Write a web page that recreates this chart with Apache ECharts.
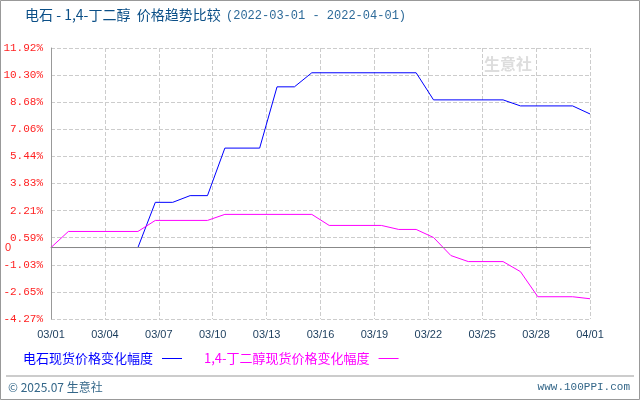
<!DOCTYPE html><html><head><meta charset="utf-8"><script src="https://cdn.jsdelivr.net/npm/echarts@6/dist/echarts.min.js"></script>
<style>body{margin:0}#c{width:640px;height:400px}</style></head><body><div id="c"></div><script>
const xLabels=['03/01','03/04','03/07','03/10','03/13','03/16','03/19','03/22','03/25','03/28','04/01'];
const blue=[[0,0],[5,0],[6,2.7],[7,2.7],[8,3.1],[9,3.1],[10,5.94],[12,5.94],[13,9.6],[14,9.6],[15,10.44],[21,10.44],[22,8.82],[26,8.82],[27,8.46],[30,8.46],[31,7.98]];
const pink=[[0,0],[1,0.96],[5,0.96],[6,1.62],[9,1.62],[10,1.98],[15,1.98],[16,1.32],[19,1.32],[20,1.08],[21,1.08],[22,0.6],[23,-0.48],[24,-0.84],[26,-0.84],[27,-1.44],[28,-2.94],[30,-2.94],[31,-3.06]];
const yMin=-4.27,yMax=11.92,yStep=1.619;
const F='"Noto Sans CJK SC",sans-serif';
const M='"Liberation Mono","DejaVu Sans Mono",monospace';
const c=echarts.init(document.getElementById('c'));
c.setOption({animation:false,backgroundColor:'#fff',
graphic:[
{type:'text',left:25,top:8,style:{text:'电石 - 1,4-丁二醇  价格趋势比较',fill:'#0b4f87',font:'14px '+F}},
{type:'text',left:226,top:10,style:{text:'(2022-03-01 - 2022-04-01)',fill:'#2d6a99',font:'12px '+M}},
{type:'rect',shape:{x:0.5,y:0.5,width:639,height:399},style:{fill:'none',stroke:'#999'}},
{type:'line',shape:{x1:6,y1:376,x2:634,y2:376},style:{stroke:'#999'}},
{type:'text',left:8,top:381,style:{text:'© 2025.07 生意社',fill:'#336688',font:'12px '+F}},
{type:'text',right:10,top:382,style:{text:'www.100PPI.com',fill:'#336688',font:'11px '+M}},
{type:'text',left:484,top:56,style:{text:'生意社',fill:'#ddd',font:'bold 16px '+F}}
],
legend:{left:18,top:347,itemWidth:20,itemHeight:1,icon:'rect',align:'right',itemGap:22,
 data:[{name:'电石现货价格变化幅度',textStyle:{color:'#0000ff'}},{name:'1,4-丁二醇现货价格变化幅度',textStyle:{color:'#ff00ff'}}],
 textStyle:{fontSize:13,fontFamily:F,padding:[0,4,0,0]}},
grid:{left:51,right:50,top:48,bottom:81},
xAxis:{type:'value',min:0,max:31,interval:3.1,axisLine:{lineStyle:{color:'#999'}},axisTick:{show:false},
 axisLabel:{color:'#1a3c5c',fontSize:11,margin:10,formatter:(v)=>xLabels[Math.round(v/3.1)]||''},
 splitLine:{show:true,lineStyle:{type:'dashed',color:'#ccc'}}},
yAxis:{type:'value',min:yMin,max:yMax,interval:yStep,axisLine:{show:true,lineStyle:{color:'#999'}},axisTick:{show:false},
 axisLabel:{color:'#ff2222',fontSize:11,fontFamily:M,formatter:v=>v.toFixed(2)+'%',showMaxLabel:true},
 splitLine:{lineStyle:{type:'dashed',color:'#ccc'}}},
series:[
{name:'电石现货价格变化幅度',type:'line',data:blue,symbol:'none',lineStyle:{color:'#0000ff',width:1},itemStyle:{color:'#0000ff'},
 markLine:{silent:true,symbol:'none',data:[{yAxis:0}],lineStyle:{color:'#888',type:'solid',width:1},label:{position:'start',formatter:'0',color:'#ff2222',fontSize:11,distance:40}}},
{name:'1,4-丁二醇现货价格变化幅度',type:'line',data:pink,symbol:'none',lineStyle:{color:'#ff00ff',width:1},itemStyle:{color:'#ff00ff'}}
]});
</script></body></html>
